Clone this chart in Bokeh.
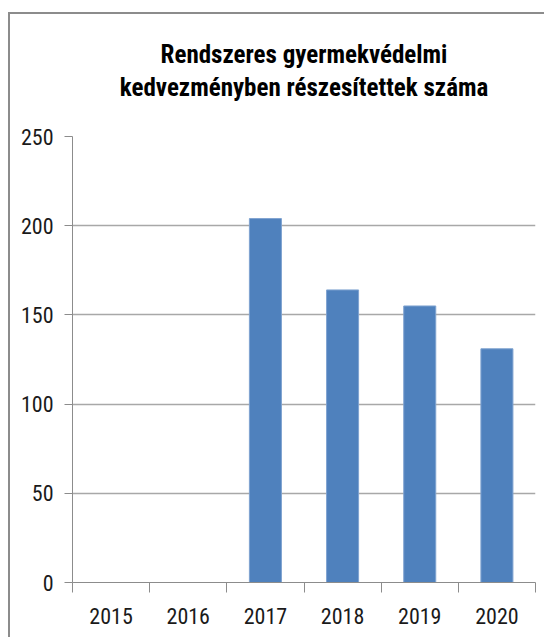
from bokeh.plotting import figure
from bokeh.models import (Range1d, LinearAxis, FixedTicker, ColumnDataSource, Title)
from bokeh.embed import file_html
from bokeh.resources import INLINE

years = ["2015", "2016", "2017", "2018", "2019", "2020"]
values = [0, 0, 204, 164, 155, 131]
y_ticks = [0, 50, 100, 150, 200, 250]
title_lines = ["Rendszeres gyermekvédelmi", "kedvezményben részesítettek száma"]

FONT = "'Liberation Sans Narrow', 'Roboto Condensed', 'DejaVu Sans Condensed', Roboto, sans-serif"

idx = list(range(len(years)))
src = ColumnDataSource(dict(x=idx, year=years, value=values))

p = figure(width=536, height=625, x_range=Range1d(-0.5, len(years) - 0.5),
           y_range=Range1d(0, 250), output_backend="svg", toolbar_location=None,
           x_axis_location=None, y_axis_location=None,
           min_border_left=62, min_border_right=11, min_border_top=0,
           min_border_bottom=57)
p.margin = (12, 0, 0, 8)
p.styles = {"border-left": "2px solid #8c8c8c", "border-top": "2px solid #8c8c8c"}

# top spacer (outermost)
p.title.text = " "
p.title.text_font_size = "10px"
p.title.standoff = 9

# spacer between title and plot area
spacer = Title(text=" ", text_font_size="10px", standoff=21)
p.add_layout(spacer, "above")

t2 = Title(text=title_lines[1], align="center", text_font=FONT, text_font_size="25px",
           text_font_style="bold", text_color="#000000", standoff=2)
p.add_layout(t2, "above")
t1 = Title(text=title_lines[0], align="center", text_font=FONT, text_font_size="25px",
           text_font_style="bold", text_color="#000000", standoff=2)
p.add_layout(t1, "above")

p.vbar(x="x", top="value", width=0.415, source=src,
       fill_color="#4F81BD", line_color="#7FA3D0", line_width=1)

# y axis
yax = LinearAxis(ticker=FixedTicker(ticks=y_ticks))
yax.axis_line_color = "#8c8c8c"
yax.axis_line_width = 1
yax.major_tick_line_color = "#8c8c8c"
yax.major_tick_out = 8
yax.major_tick_in = 0
yax.minor_tick_line_color = None
yax.major_label_text_font = FONT
yax.major_label_text_font_size = "22px"
yax.major_label_text_color = "#1a1a1a"
yax.major_label_standoff = 11
p.add_layout(yax, "left")

# tick-marks axis at category boundaries
tax = LinearAxis(ticker=FixedTicker(ticks=[i - 0.5 for i in range(len(years) + 1)]))
tax.axis_line_color = "#8c8c8c"
tax.major_tick_line_color = "#8c8c8c"
tax.major_tick_out = 10
tax.major_tick_in = 0
tax.minor_tick_line_color = None
tax.major_label_overrides = {i - 0.5: " " for i in range(len(years) + 1)}
tax.major_label_text_font_size = "1px"
tax.major_label_standoff = 0
p.add_layout(tax, "below")

# category label axis
cax = LinearAxis(ticker=FixedTicker(ticks=idx),
                 major_label_overrides={i: y for i, y in zip(idx, years)})
cax.axis_line_color = None
cax.major_tick_line_color = None
cax.minor_tick_line_color = None
cax.major_label_text_font = FONT
cax.major_label_text_font_size = "22px"
cax.major_label_text_color = "#1a1a1a"
cax.major_label_standoff = 5
p.add_layout(cax, "below")

p.xgrid.grid_line_color = None
p.ygrid.ticker = FixedTicker(ticks=y_ticks)
p.ygrid.grid_line_color = "#a8a8a8"
p.ygrid.grid_line_width = 1.5
p.outline_line_color = None

open("out.html", "w").write(file_html(p, INLINE))
